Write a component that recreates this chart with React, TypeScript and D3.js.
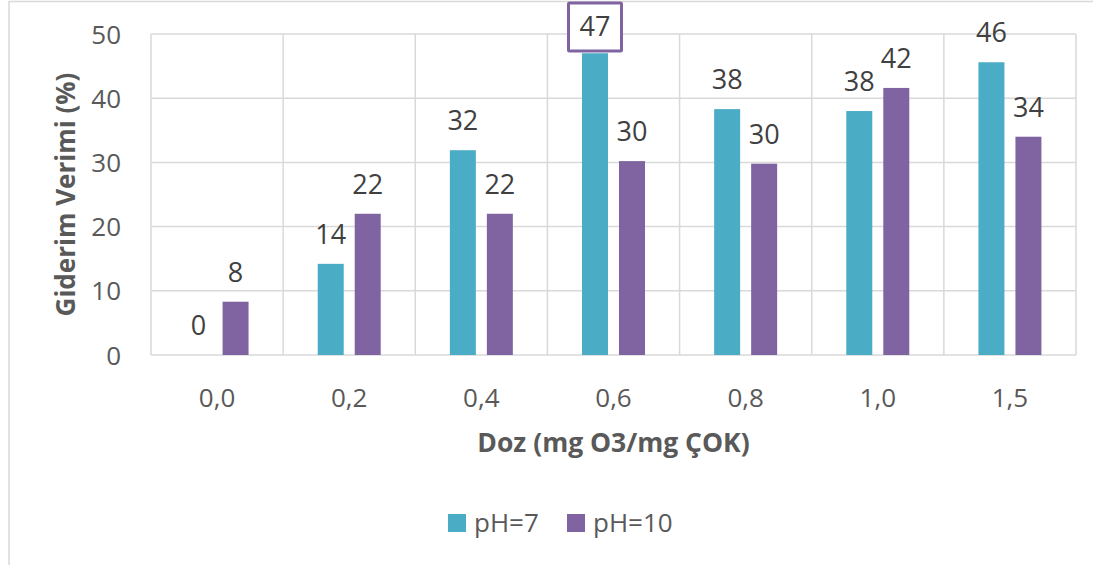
import React from "react";
import * as d3 from "d3";

const categories = ["0,0", "0,2", "0,4", "0,6", "0,8", "1,0", "1,5"];
const seriesNames = ["pH=7", "pH=10"];
const ph7 = [0, 14.2, 31.9, 47.0, 38.3, 38.0, 45.6];
const ph10 = [8.3, 22.0, 22.0, 30.2, 29.8, 41.6, 34.0];
const yTicks = [0, 10, 20, 30, 40, 50];
const colors = ["#4BACC6", "#8064A2"];
const highlighted = { series: 0, index: 3 };

const W = 1093, H = 565;
const plot = { left: 151, right: 1076, top: 34, bottom: 355 };
const FONT = "'Open Sans', 'Noto Sans', sans-serif";

export default function App() {
  const x = d3.scaleBand<string>().domain(categories).range([plot.left, plot.right]).padding(0);
  const y = d3.scaleLinear().domain([0, 50]).range([plot.bottom, plot.top]);
  const barW = 26;
  const offset = 18.5;
  const series = [ph7, ph10];
  const bw = x.bandwidth();

  return (
    <svg width={W} height={H} style={{ position: "absolute", left: 0, top: 0, background: "#fff" }} fontFamily={FONT}>
      <rect x={9} y={1.5} width={W + 20} height={H + 20} fill="#fff" stroke="#D9D9D9" strokeWidth={1.5} />
      {/* gridlines */}
      {yTicks.map((t) => (
        <line key={"h" + t} x1={plot.left} x2={plot.right} y1={y(t)} y2={y(t)} stroke="#D9D9D9" strokeWidth={1.5} />
      ))}
      {categories.map((c) => (
        <line key={"v" + c} x1={x(c)!} x2={x(c)!} y1={plot.top} y2={plot.bottom} stroke="#D9D9D9" strokeWidth={1.5} />
      ))}
      <line x1={plot.right} x2={plot.right} y1={plot.top} y2={plot.bottom} stroke="#D9D9D9" strokeWidth={1.5} />
      {/* bars */}
      {series.map((vals, si) =>
        vals.map((v, i) => {
          const cx = x(categories[i])! + bw / 2 + (si === 0 ? -offset : offset);
          return (
            <rect key={si + "-" + i} x={cx - barW / 2} y={y(v)} width={barW} height={y(0) - y(v)} fill={colors[si]} />
          );
        })
      )}
      {/* labels */}
      {series.map((vals, si) =>
        vals.map((v, i) => {
          const cx = x(categories[i])! + bw / 2 + (si === 0 ? -offset : offset);
          const isHi = highlighted.series === si && highlighted.index === i;
          const by = isHi ? y(v) - 17 : y(v) - 20;
          return (
            <g key={"l" + si + "-" + i}>
              {isHi && (
                <rect x={cx - 26.5} y={3} width={53} height={48} fill="#fff" stroke={colors[1]} strokeWidth={3} rx={1} />
              )}
              <text x={cx} y={by} textAnchor="middle" fontSize={27} fill="#404040">
                {Math.round(v)}
              </text>
            </g>
          );
        })
      )}
      {/* y tick labels */}
      {yTicks.map((t) => (
        <text key={"yt" + t} x={121} y={y(t) + 9.5} textAnchor="end" fontSize={26} fill="#595959">
          {t}
        </text>
      ))}
      {/* x tick labels */}
      {categories.map((c) => (
        <text key={"xt" + c} x={x(c)! + bw / 2} y={407} textAnchor="middle" fontSize={26} fill="#595959">
          {c}
        </text>
      ))}
      {/* axis titles */}
      <text
        transform={`translate(75, ${(plot.top + plot.bottom) / 2}) rotate(-90)`}
        textAnchor="middle"
        fontSize={26}
        fontWeight="bold"
        fill="#595959"
      >
        Giderim Verimi (%)
      </text>
      <text x={(plot.left + plot.right) / 2} y={452} textAnchor="middle" fontSize={26.5} fontWeight="bold" fill="#595959">
        Doz (mg O3/mg ÇOK)
      </text>
      {/* legend */}
      {seriesNames.map((n, i) => {
        const lx = i === 0 ? 448 : 567;
        return (
          <g key={"lg" + n}>
            <rect x={lx} y={514} width={18} height={18} fill={colors[i]} />
            <text x={lx + 26} y={532} fontSize={26} fill="#595959">
              {n}
            </text>
          </g>
        );
      })}
    </svg>
  );
}
